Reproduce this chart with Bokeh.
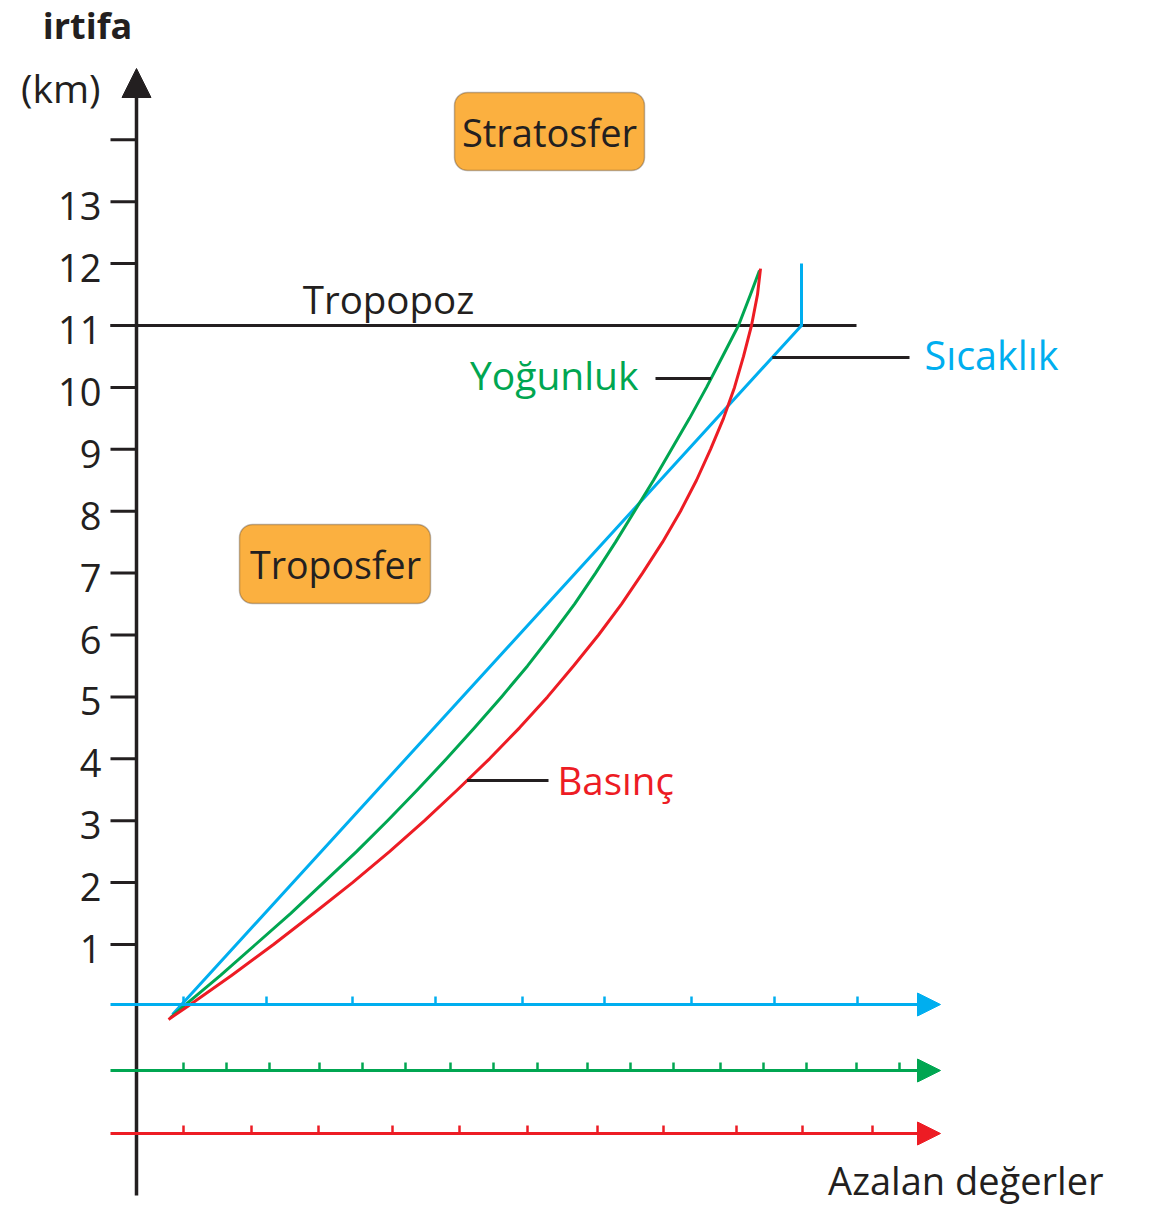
import numpy as np
from bokeh.plotting import figure
from bokeh.models import Range1d, Arrow, NormalHead, BoxAnnotation
from bokeh.core.properties import value
from bokeh.embed import file_html
from bokeh.resources import INLINE

# ---------------- data ----------------
altitude_ticks = list(range(1, 15))            # km
altitude_labels = [str(i) for i in range(1, 14)]

# curves: altitude (km) and relative "değer" position (arbitrary units)
sicaklik_km = [-0.13, 11.0, 12.0]
sicaklik_x = [36, 665, 665]

yogunluk_km = [-0.18, 0, 0.5, 1, 1.5, 2, 2.5, 3, 3.5, 4, 4.5, 5, 5.5, 6, 6.5,
               7, 7.5, 8, 8.5, 9, 9.5, 10, 10.5, 11, 11.5, 11.89]
yogunluk_x = [34, 47, 84, 119, 154, 187, 220, 251, 281, 310, 338, 365, 391,
              415, 438, 459, 479, 498, 517, 535, 553, 570, 586, 602, 614, 623]

basinc_km = [-0.21, 0, 0.5, 1, 1.5, 2, 2.5, 3, 3.5, 4, 4.5, 5, 5.5, 6, 6.5,
             7, 7.5, 8, 8.5, 9, 9.5, 10, 10.5, 11, 11.5, 11.92]
basinc_x = [32, 51, 95, 137, 177, 216, 253, 288, 321, 353, 383, 411, 437,
            462, 485, 506, 526, 544, 560, 574, 587, 598, 607, 615, 621, 624]

# scale ticks of the three value axes
sicaklik_ticks = [47, 130, 216, 299, 386, 468, 555, 638, 721]
yogunluk_ticks = [47, 90, 133, 183, 226, 269, 314, 357, 401, 451, 494, 537,
                  584, 627, 670, 720, 763]
basinc_ticks = [47, 115, 182, 256, 323, 391, 461, 527, 600, 666, 736]

tropopoz_km = 11

# ---------------- layout ----------------
W, H = 1145, 1205
KM = 61.9                      # px per km
Y0 = 1005.9                    # screen row of 0 km
X0 = 136                       # screen column of the altitude axis
BLUE, GREEN, RED = "#00AEEF", "#00A651", "#ED1C24"
INK = "#231F20"
ORANGE = "#FBB040"
FONT = value("Open Sans")
SHIFT = 13                     # baseline correction (px)


def ky(py):
    return (Y0 - py) / KM


def tb(py):
    # baseline position for a text whose baseline should sit at screen row py
    return (Y0 - (py - SHIFT)) / KM


p = figure(width=W, height=H, x_range=Range1d(-X0, -X0 + W),
           y_range=Range1d(ky(H), ky(0)),
           output_backend="svg", toolbar_location=None, min_border=0,
           x_axis_type=None, y_axis_type=None)
p.grid.visible = False
p.outline_line_color = None
p.background_fill_color = "white"

# boxes
for l, r, t, b in [(318, 508, ky(92), ky(170)), (103, 294, ky(524), ky(603))]:
    p.add_layout(BoxAnnotation(left=l, right=r, top=t, bottom=b,
                               fill_color=ORANGE, fill_alpha=1,
                               line_color=INK, line_width=1.5,
                               border_radius=13, level="underlay"))

# vertical axis with arrow
p.add_layout(Arrow(x_start=0, y_start=ky(1195), x_end=0, y_end=ky(68),
                   line_color=INK, line_width=3.5,
                   end=NormalHead(size=29, fill_color=INK, line_color=INK, line_width=1)))

# altitude ticks
p.segment(x0=[-26] * len(altitude_ticks), y0=altitude_ticks,
          x1=[0] * len(altitude_ticks), y1=altitude_ticks,
          line_color=INK, line_width=3)
p.text(x=[-35] * len(altitude_labels),
       y=np.array(altitude_ticks[:len(altitude_labels)]) - (17.5 - SHIFT) / KM,
       text=altitude_labels, text_font=FONT, text_font_size="38px",
       text_color=INK, text_align="right", text_baseline="alphabetic")

# tropopoz line
p.segment(x0=[-26], y0=[tropopoz_km], x1=[720], y1=[tropopoz_km],
          line_color=INK, line_width=3)

# value axes
axes = [(ky(1004), sicaklik_ticks, BLUE), (ky(1070), yogunluk_ticks, GREEN),
        (ky(1133), basinc_ticks, RED)]
for lvl, ticks, col in axes:
    p.add_layout(Arrow(x_start=-26, y_start=lvl, x_end=804, y_end=lvl,
                       line_color=col, line_width=3,
                       end=NormalHead(size=23, fill_color=col, line_color=col,
                                      line_width=1)))
    p.segment(x0=ticks, y0=[lvl] * len(ticks), x1=ticks,
              y1=[lvl + 8 / KM] * len(ticks), line_color=col, line_width=2.5)

# curves
p.line(sicaklik_x, sicaklik_km, line_color=BLUE, line_width=3, line_join="round")
p.line(yogunluk_x, yogunluk_km, line_color=GREEN, line_width=3, line_join="round")
p.line(basinc_x, basinc_km, line_color=RED, line_width=3, line_join="round")

# leader lines (attached to the curves)
y_yog, y_sic, y_bas = ky(378), ky(357), ky(780)
xg = float(np.interp(y_yog, yogunluk_km, yogunluk_x))
xb = float(np.interp(y_sic, sicaklik_km[:2], sicaklik_x[:2]))
xr = float(np.interp(y_bas, basinc_km, basinc_x))
p.segment(x0=[519, xb, xr], y0=[y_yog, y_sic, y_bas],
          x1=[xg, 773, 412], y1=[y_yog, y_sic, y_bas],
          line_color=INK, line_width=3)

# texts: (text, x, baseline row, size, colour, align, style)
texts = [
    ("irtifa", -49, 38, "36px", INK, "center", "bold"),
    ("(km)", -36, 100, "39px", INK, "right", "normal"),
    ("Tropopoz", 252, 311, "38.5px", INK, "center", "normal"),
    ("Stratosfer", 413, 144, "38px", INK, "center", "normal"),
    ("Troposfer", 199, 577, "37.5px", INK, "center", "normal"),
    ("Yoğunluk", 502, 387, "39px", GREEN, "right", "normal"),
    ("Sıcaklık", 788, 367, "39.5px", BLUE, "left", "normal"),
    ("Basınç", 421, 792, "38.5px", RED, "left", "normal"),
    ("Azalan değerler", 967, 1192, "38px", INK, "right", "normal"),
]
for t, x, row, size, col, align, style in texts:
    p.text(x=[x], y=[tb(row)], text=[t], text_font=FONT, text_font_size=size,
           text_font_style=style, text_color=col, text_align=align,
           text_baseline="alphabetic")

open("out.html", "w").write(file_html(p, INLINE))
